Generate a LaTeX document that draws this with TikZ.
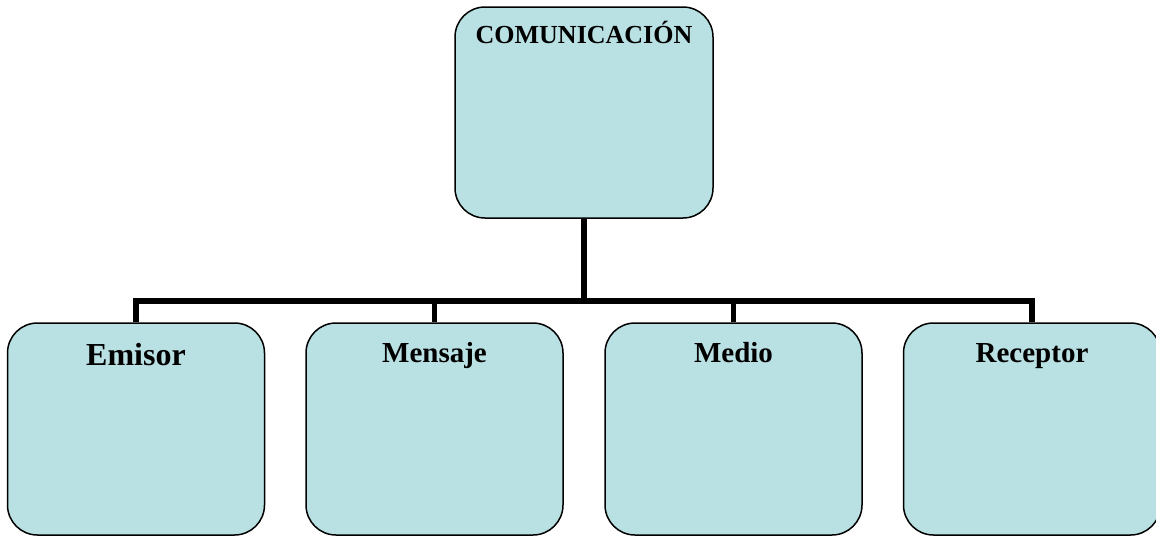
\documentclass[tikz,border=0pt]{standalone}
\usepackage{fontspec}
\setmainfont{Liberation Serif}
\usetikzlibrary{positioning}
\definecolor{boxfill}{HTML}{B9E0E3}

\begin{document}
\begin{tikzpicture}[x=1pt, y=-1pt,
		box/.style={draw=black, line width=1.5pt, fill=boxfill, rounded corners=30pt,
			minimum width=257pt, minimum height=212pt, inner sep=0pt},
		title/.style={anchor=base, inner sep=0pt, font=\bfseries\fontsize{#1}{#1}\selectfont},
		link/.style={line width=5.5pt}]
		\def\row{429};
		
		\useasboundingbox (0,0) rectangle (1156,536);
		
		% top box
		\node [box, minimum width=258pt, minimum height=211pt] (comunicacion) at (584,112.5) {};
		\node [title=26, below=37pt of comunicacion.north, anchor=base] (comunicacion text) {COMUNICACIÓN};
		
		% bottom row
		\node [box] (emisor) at (136,\row) {};
		\node [box] (mensaje) at (434.5,\row) {};
		\node [box] (medio) at (733.5,\row) {};
		\node [box] (receptor) at (1032,\row) {};
		
		\node [title=32, below=43pt of emisor.north, anchor=base] (emisor text) {Emisor};
		\node [title=29, below=40pt of mensaje.north, anchor=base] (mensaje text) {Mensaje};
		\node [title=29, below=40pt of medio.north, anchor=base] (medio text) {Medio};
		\node [title=29, below=40pt of receptor.north, anchor=base] (receptor text) {Receptor};
		
		\coordinate (bus) at (584,301);
		
		\begin{scope}[link]
			\draw (comunicacion.south) -- (bus);
			\draw (bus) -| (emisor.north);
			\draw (bus) -| (mensaje.north);
			\draw (bus) -| (medio.north);
			\draw (bus) -| (receptor.north);
		\end{scope}
	\end{tikzpicture}
\end{document}
